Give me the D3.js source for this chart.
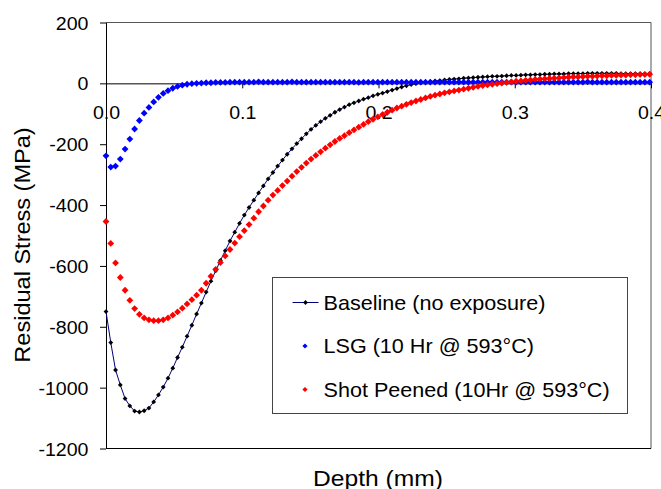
<!DOCTYPE html>
<html>
<head>
<meta charset="utf-8">
<script src="https://cdn.jsdelivr.net/npm/d3@7"></script>
<style>
  html, body { margin: 0; padding: 0; background: #fff; }
  svg { display: block; font-family: "Liberation Sans", Arial, sans-serif; }
</style>
</head>
<body>
<svg id="chart" width="661" height="489"></svg>
<script>
// Depth positions (mm) shared by all three measured profiles
const depth = [
  0, 0.0035, 0.007, 0.0105, 0.014, 0.0175, 0.021, 0.0245, 0.028, 0.0315,
  0.035, 0.0385, 0.042, 0.0455, 0.049, 0.0525, 0.056, 0.0595, 0.063, 0.0665,
  0.07, 0.0735, 0.077, 0.0805, 0.084, 0.0875, 0.091, 0.0945, 0.098, 0.1015,
  0.105, 0.1085, 0.112, 0.1155, 0.119, 0.1225, 0.126, 0.1295, 0.133, 0.1365,
  0.14, 0.1435, 0.147, 0.1505, 0.154, 0.1575, 0.161, 0.1645, 0.168, 0.1715,
  0.175, 0.1785, 0.182, 0.1855, 0.189, 0.1925, 0.196, 0.1995, 0.203, 0.2065,
  0.21, 0.2135, 0.217, 0.2205, 0.224, 0.2275, 0.231, 0.2345, 0.238, 0.2415,
  0.245, 0.2485, 0.252, 0.2555, 0.259, 0.2625, 0.266, 0.2695, 0.273, 0.2765,
  0.28, 0.2835, 0.287, 0.2905, 0.294, 0.2975, 0.301, 0.3045, 0.308, 0.3115,
  0.315, 0.3185, 0.322, 0.3255, 0.329, 0.3325, 0.336, 0.3395, 0.343, 0.3465,
  0.35, 0.3535, 0.357, 0.3605, 0.364, 0.3675, 0.371, 0.3745, 0.378, 0.3815,
  0.385, 0.3885, 0.392, 0.3955, 0.399
];

// Residual stress (MPa), baseline with no exposure
const baseline = [
  -750, -852, -942, -991, -1036, -1060, -1077, -1080, -1076, -1067,
  -1047, -1024, -998, -969, -936, -901, -867, -831, -795, -758,
  -722, -686, -650, -616, -582, -550, -518, -489, -460, -433,
  -408, -384, -360, -337, -314, -293, -272, -252, -233, -215,
  -198, -182, -166, -151, -138, -126, -115, -105, -95, -86,
  -78, -70, -64, -58, -52, -47, -41, -36, -32, -27,
  -22, -17, -12, -8, -4, -1, 2, 4, 6, 8,
  9, 11, 13, 14, 15, 17, 18, 19, 20, 21,
  22, 23, 23, 24, 25, 26, 26, 27, 28, 28,
  29, 29, 30, 30, 31, 31, 31, 32, 32, 32,
  32, 33, 33, 33, 33, 33, 33, 33, 32, 32,
  32, 32, 32, 32, 32
];

// Residual stress (MPa), LSG after 10 h at 593 °C
const lsg = [
  -238, -275, -272, -249, -216, -183, -150, -122, -98, -79,
  -61, -46, -33, -24, -16, -10, -6, -3, -1, 0,
  1, 2, 2, 3, 3, 3, 4, 4, 4, 4,
  4, 4, 5, 4, 4, 4, 4, 4, 4, 5,
  4, 4, 4, 4, 4, 4, 4, 4, 4, 4,
  4, 4, 4, 3, 4, 4, 4, 4, 4, 4,
  4, 4, 4, 4, 4, 4, 4, 4, 4, 4,
  4, 4, 4, 4, 4, 4, 4, 4, 4, 4,
  4, 4, 4, 4, 4, 4, 4, 4, 4, 4,
  4, 4, 4, 4, 4, 4, 4, 4, 4, 4,
  4, 5, 4, 4, 4, 4, 4, 4, 4, 4,
  4, 4, 4, 4, 4
];

// Residual stress (MPa), shot peened after 10 h at 593 °C
const shotPeened = [
  -454, -526, -590, -638, -680, -713, -740, -759, -771, -777,
  -780, -780, -777, -771, -762, -751, -739, -725, -711, -696,
  -680, -657, -634, -611, -589, -567, -546, -525, -504, -484,
  -464, -443, -422, -403, -384, -367, -352, -336, -321, -305,
  -290, -276, -262, -249, -237, -225, -213, -202, -191, -181,
  -172, -162, -153, -144, -135, -126, -118, -110, -102, -95,
  -88, -81, -75, -69, -63, -58, -53, -48, -43, -39,
  -35, -31, -28, -25, -22, -19, -16, -13, -10, -7,
  -5, -3, -1, 1, 3, 5, 7, 8, 10, 11,
  13, 14, 15, 16, 17, 18, 19, 20, 21, 21,
  22, 23, 23, 24, 25, 25, 26, 26, 27, 27,
  28, 28, 29, 29, 30
];

const xTicks = [0, 0.1, 0.2, 0.3, 0.4];
const yTicks = [-1200, -1000, -800, -600, -400, -200, 0, 200];
const seriesNames = ["Baseline (no exposure)", "LSG (10 Hr @ 593°C)", "Shot Peened (10Hr @ 593°C)"];

const svg = d3.select("#chart");
const plotLeft = 106, plotRight = 651, plotTop = 22.5, plotBottom = 448.5;
const x = d3.scaleLinear().domain([0, 0.4]).range([plotLeft, plotRight]);
const y = d3.scaleLinear().domain([-1200, 200]).range([plotBottom, plotTop]);

const STRETCH = 1.12;

// plot frame (top and right in grey, bottom in black)
svg.append("line").attr("x1", plotLeft).attr("x2", plotRight).attr("y1", plotTop).attr("y2", plotTop)
  .attr("stroke", "#555").attr("stroke-width", 1);
svg.append("line").attr("x1", plotRight).attr("x2", plotRight).attr("y1", plotTop).attr("y2", plotBottom)
  .attr("stroke", "#555").attr("stroke-width", 1);
svg.append("line").attr("x1", plotLeft).attr("x2", plotRight).attr("y1", plotBottom).attr("y2", plotBottom)
  .attr("stroke", "#000").attr("stroke-width", 1);

// y axis, plain hyphen-minus labels
const yAxis = svg.append("g").attr("transform", `translate(${plotLeft},0)`)
  .call(d3.axisLeft(y).tickValues(yTicks).tickSize(6).tickSizeOuter(0).tickFormat(d => String(d)));
yAxis.select(".domain").attr("stroke", "#000");
yAxis.selectAll(".tick line").attr("stroke", "#000");
yAxis.selectAll(".tick text")
  .attr("x", null).attr("dy", null)
  .attr("transform", `translate(-17.5,0.5) scale(${STRETCH},1)`)
  .attr("dominant-baseline", "central")
  .attr("font-size", 17.5).attr("fill", "#000")
  .attr("font-family", "Liberation Sans, Arial, sans-serif");

// x axis crossing at zero stress
const xAxis = svg.append("g").attr("transform", `translate(0,${y(0)})`)
  .call(d3.axisBottom(x).tickValues(xTicks).tickSize(5).tickSizeOuter(0).tickFormat(d3.format(".1f")));
xAxis.select(".domain").attr("stroke", "#000");
xAxis.selectAll(".tick line").attr("stroke", "#000");
xAxis.selectAll(".tick text")
  .attr("y", null).attr("dy", null)
  .attr("transform", `translate(0,35.5) scale(${STRETCH},1)`)
  .attr("font-size", 17.5).attr("fill", "#000")
  .attr("font-family", "Liberation Sans, Arial, sans-serif");

// axis titles
svg.append("text")
  .attr("transform", `translate(30,245) rotate(-90) scale(1.07,1)`)
  .attr("text-anchor", "middle")
  .attr("font-size", 22)
  .text("Residual Stress (MPa)");
svg.append("text")
  .attr("transform", `translate(378,485.5) scale(1.12,1)`)
  .attr("text-anchor", "middle")
  .attr("font-size", 22)
  .text("Depth (mm)");

const diamond = r => `M0,${-r}L${r},0L0,${r}L${-r},0Z`;
const pts = vals => vals.map((v, i) => [depth[i], v]).filter(d => d[0] !== undefined);

const plot = svg.append("g");

// baseline: navy line with small black markers
const basePts = pts(baseline);
plot.append("path")
  .attr("d", d3.line().x(d => x(d[0])).y(d => y(d[1]))(basePts))
  .attr("fill", "none").attr("stroke", "#000080").attr("stroke-width", 1);
plot.append("g").selectAll("path").data(basePts).join("path")
  .attr("transform", d => `translate(${x(d[0])},${y(d[1])})`)
  .attr("d", diamond(2.4)).attr("fill", "#000");

// LSG markers
plot.append("g").selectAll("path").data(pts(lsg)).join("path")
  .attr("transform", d => `translate(${x(d[0])},${y(d[1])})`)
  .attr("d", diamond(3.4)).attr("fill", "#0000ff");

// shot peened markers
plot.append("g").selectAll("path").data(pts(shotPeened)).join("path")
  .attr("transform", d => `translate(${x(d[0])},${y(d[1])})`)
  .attr("d", diamond(3.4)).attr("fill", "#ff0000");

// legend
const lg = svg.append("g");
lg.append("rect").attr("x", 272.5).attr("y", 277.5).attr("width", 355).attr("height", 136)
  .attr("fill", "#fff").attr("stroke", "#444").attr("stroke-width", 1);
const rows = [302.5, 346, 389.5];
lg.append("line").attr("x1", 292.5).attr("x2", 318.5).attr("y1", rows[0]).attr("y2", rows[0])
  .attr("stroke", "#000080").attr("stroke-width", 1);
lg.append("path").attr("transform", `translate(305.5,${rows[0]})`).attr("d", diamond(2.4)).attr("fill", "#000");
lg.append("path").attr("transform", `translate(305,${rows[1]})`).attr("d", diamond(2.6)).attr("fill", "#0000ff");
lg.append("path").attr("transform", `translate(305,${rows[2]})`).attr("d", diamond(2.6)).attr("fill", "#ff0000");
seriesNames.forEach((name, i) => {
  lg.append("text")
    .attr("transform", `translate(323.5,${rows[i] + 7}) scale(1.08,1)`)
    .attr("font-size", 20)
    .text(name);
});
</script>
</body>
</html>
